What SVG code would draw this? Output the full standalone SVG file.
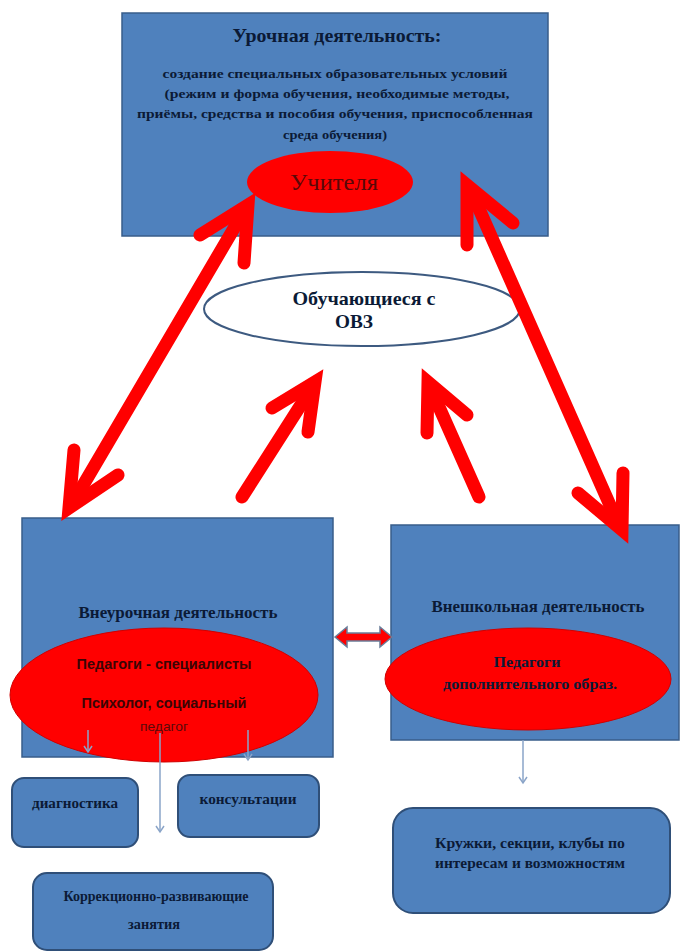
<svg xmlns="http://www.w3.org/2000/svg" width="681" height="952" viewBox="0 0 681 952">
<style>
.box{fill:#4f81bd;stroke:#385d8a;stroke-width:1.5}
.rbox{fill:#4f81bd;stroke:#2f4f78;stroke-width:2}
.red{fill:#ff0000;stroke:#d00000;stroke-width:1}
.t{font-family:"Liberation Serif",serif;font-weight:bold;fill:#0b1a36;text-anchor:middle}
.rt{font-family:"Liberation Sans",sans-serif;font-weight:bold;fill:#3a0505;text-anchor:middle}
.big{fill:none;stroke:#ff0000;stroke-width:13;stroke-linecap:round;stroke-linejoin:miter}
.thin{fill:none;stroke:#8aa4c8;stroke-width:1.5}
</style>
<defs>
<marker id="ah" markerWidth="10" markerHeight="10" refX="8" refY="5" orient="auto" markerUnits="userSpaceOnUse" viewBox="0 0 10 10">
<path d="M2,1 L8,5 L2,9" fill="none" stroke="#8aa4c8" stroke-width="1.5"/>
</marker>
</defs>
<rect width="681" height="952" fill="#ffffff"/>

<g id="top">
<rect class="box" x="122" y="13" width="426" height="223"/>
<text class="t" x="337" y="42" font-size="19" textLength="209" lengthAdjust="spacingAndGlyphs">Урочная деятельность:</text>
<text class="t" x="335" y="78" font-size="13" textLength="345" lengthAdjust="spacingAndGlyphs">создание  специальных образовательных  условий</text>
<text class="t" x="337" y="98" font-size="13" textLength="345" lengthAdjust="spacingAndGlyphs">(режим и форма обучения, необходимые методы,</text>
<text class="t" x="335" y="118" font-size="13" textLength="396" lengthAdjust="spacingAndGlyphs">приёмы, средства  и пособия обучения, приспособленная</text>
<text class="t" x="335" y="139" font-size="13" textLength="104" lengthAdjust="spacingAndGlyphs">среда обучения)</text>
<ellipse fill="#ff0000" cx="330" cy="182" rx="83" ry="31"/>
<text x="334" y="190" font-family="Liberation Serif,serif" font-size="23" fill="#5a0808" text-anchor="middle" textLength="88" lengthAdjust="spacingAndGlyphs">Учителя</text>
</g>

<g id="students">
<ellipse cx="362" cy="309" rx="158" ry="37" fill="#ffffff" stroke="#3d5a80" stroke-width="2"/>
<text class="t" x="364" y="305" font-size="19" fill="#111" textLength="143" lengthAdjust="spacingAndGlyphs">Обучающиеся с</text>
<text class="t" x="354" y="328" font-size="19" fill="#111" textLength="38" lengthAdjust="spacingAndGlyphs">ОВЗ</text>
</g>

<g id="vneurochnaya">
<rect class="box" x="22" y="518" width="311" height="239"/>
<text class="t" x="178" y="618" font-size="16" textLength="199" lengthAdjust="spacingAndGlyphs">Внеурочная деятельность</text>
<ellipse class="red" cx="164" cy="695" rx="154" ry="67"/>
<text class="rt" x="164" y="669" font-size="14" textLength="175" lengthAdjust="spacingAndGlyphs">Педагоги - специалисты</text>
<text class="rt" x="164" y="708" font-size="14" textLength="165" lengthAdjust="spacingAndGlyphs">Психолог, социальный</text>
<text x="164" y="731" font-family="Liberation Sans,sans-serif" font-size="13" fill="#5a0a0a" text-anchor="middle" textLength="48" lengthAdjust="spacingAndGlyphs">педагог</text>
</g>

<g id="vneshkolnaya">
<rect class="box" x="391" y="525" width="288" height="215"/>
<text class="t" x="538" y="612" font-size="16" textLength="213" lengthAdjust="spacingAndGlyphs">Внешкольная  деятельность</text>
<ellipse class="red" cx="528" cy="679" rx="143" ry="51"/>
<text class="t" x="527" y="667" font-size="15" fill="#4a0a0a" textLength="67" lengthAdjust="spacingAndGlyphs">Педагоги</text>
<text class="t" x="530" y="689" font-size="15" fill="#4a0a0a" textLength="174" lengthAdjust="spacingAndGlyphs">дополнительного образ.</text>
</g>

<g id="diagnostika">
<rect class="rbox" x="12" y="778" width="126" height="69" rx="12"/>
<text class="t" x="75" y="808" font-size="15" textLength="86" lengthAdjust="spacingAndGlyphs">диагностика</text>
</g>

<g id="konsultacii">
<rect class="rbox" x="178" y="775" width="141" height="62" rx="12"/>
<text class="t" x="248" y="804" font-size="15" textLength="97" lengthAdjust="spacingAndGlyphs">консультации</text>
</g>

<g id="korrekciya">
<rect class="rbox" x="33" y="873" width="240" height="77" rx="14"/>
<text class="t" x="156" y="901" font-size="15" textLength="185" lengthAdjust="spacingAndGlyphs">Коррекционно-развивающие</text>
<text class="t" x="154" y="929" font-size="15" textLength="52" lengthAdjust="spacingAndGlyphs">занятия</text>
</g>

<g id="kruzhki">
<rect class="rbox" x="393" y="808" width="277" height="105" rx="20"/>
<text class="t" x="530" y="848" font-size="15" textLength="190" lengthAdjust="spacingAndGlyphs">Кружки, секции, клубы по</text>
<text class="t" x="530" y="868" font-size="15" textLength="190" lengthAdjust="spacingAndGlyphs">интересам  и возможностям</text>
</g>

<g id="connectors">
<path class="big" d="M75,499 L243,213"/>
<path class="big" d="M200,235 L248,205 L244,263"/>
<path class="big" d="M74,450 L69,508 L118,475"/>
<path class="big" d="M472,193 L617,521"/>
<path class="big" d="M467,245 L467,185 L513,223"/>
<path class="big" d="M578,493 L622,530 L623,473"/>
<path class="big" d="M242,497 L311,389"/>
<path class="big" d="M272,408 L315,382 L308,432"/>
<path class="big" d="M479,497 L431,389"/>
<path class="big" d="M427,433 L428,382 L467,415"/>
<polygon points="335,637 347,627 347,633 380,633 380,627 392,637 380,647 380,641 347,641 347,647" fill="#ff0000" stroke="#6a7d99" stroke-width="1.5"/>
<path class="thin" d="M88,730 L88,752" marker-end="url(#ah)"/>
<path class="thin" d="M160,733 L160,832" marker-end="url(#ah)"/>
<path class="thin" d="M248,730 L248,760" marker-end="url(#ah)"/>
<path class="thin" d="M523,740 L523,783" marker-end="url(#ah)"/>
</g>
</svg>
